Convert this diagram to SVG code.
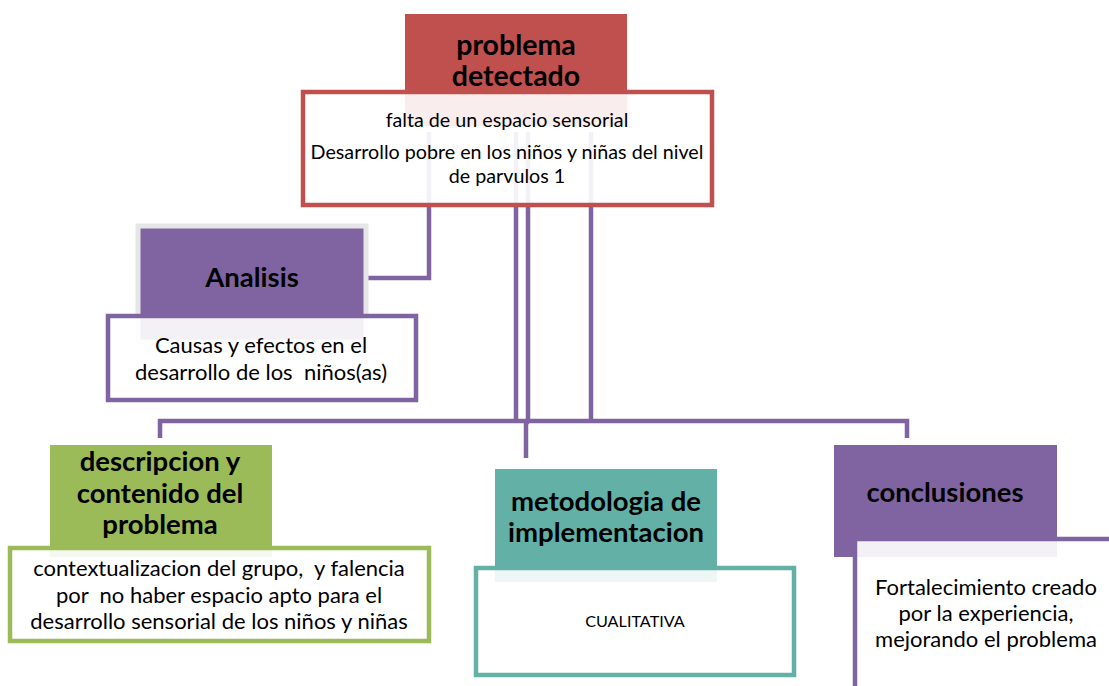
<svg xmlns="http://www.w3.org/2000/svg" width="1109" height="686" viewBox="0 0 1109 686">
<style>
.t{font-family:Lato,"Liberation Sans",sans-serif;font-weight:bold;font-size:27.5px;fill:#000;text-anchor:middle}
.b{font-family:Lato,"Liberation Sans",sans-serif;font-size:22px;fill:#000;text-anchor:middle;white-space:pre}
.s{font-size:19.7px}
.box{fill:#fff;fill-opacity:0.9;stroke-width:4.5}
.con{fill:none;stroke:#8064A2;stroke-width:4.5}
</style>
<rect width="1109" height="686" fill="#fff"/>
<g id="connectors">
<path class="con" d="M429,132 V278 H368"/>
<path class="con" d="M516,132 V421"/>
<path class="con" d="M528,132 V421 L526,424 V458"/>
<path class="con" d="M591,132 V421"/>
<path class="con" d="M160,438 V421 H907 V438"/>
</g>
<g id="problema">
<rect x="405" y="14" width="222" height="112" fill="#C0504D"/>
<rect class="box" x="303" y="92" width="409" height="113" stroke="#C0504D"/>
<text class="t" x="516" y="55" style="font-size:28.5px">problema</text>
<text class="t" x="516" y="86" style="font-size:28.5px">detectado</text>
<text class="b s" x="507" y="127">falta de un espacio sensorial</text>
<text class="b s" x="507" y="159">Desarrollo pobre en los niños y niñas del nivel</text>
<text class="b s" x="507" y="183">de parvulos 1</text>
</g>
<g id="analisis">
<rect x="138" y="226" width="228" height="116" fill="#8064A2" stroke="#E6E6E6" stroke-width="5"/>
<rect class="box" x="108" y="316" width="308" height="84" stroke="#8064A2"/>
<text class="t" x="252" y="287">Analisis</text>
<text class="b" x="261" y="353">Causas y efectos en el</text>
<text class="b" x="261" y="380">desarrollo de los  niños(as)</text>
</g>
<g id="descripcion">
<rect x="50" y="445" width="222" height="112" fill="#9BBB59"/>
<rect class="box" x="10" y="548" width="419" height="93" stroke="#9BBB59"/>
<text class="t" x="160" y="471">descripcion y</text>
<text class="t" x="160" y="503">contenido del</text>
<text class="t" x="160" y="534">problema</text>
<text class="b" x="219" y="576">contextualizacion del grupo,  y falencia</text>
<text class="b" x="219" y="603">por  no haber espacio apto para el</text>
<text class="b" x="219" y="629">desarrollo sensorial de los niños y niñas</text>
</g>
<g id="metodologia">
<rect x="495" y="469" width="222" height="113" fill="#62B0A6"/>
<rect class="box" x="476" y="568" width="318" height="107" stroke="#62B0A6"/>
<text class="t" x="606" y="511">metodologia de</text>
<text class="t" x="606" y="542">implementacion</text>
<text class="b" x="635" y="627" style="font-size:16.2px">CUALITATIVA</text>
</g>
<g id="conclusiones">
<rect x="834" y="445" width="223" height="112" fill="#8064A2"/>
<rect class="box" x="855" y="539" width="300" height="200" stroke="#8064A2"/>
<text class="t" x="945" y="502">conclusiones</text>
<text class="b" x="986" y="595">Fortalecimiento creado</text>
<text class="b" x="986" y="621">por la experiencia,</text>
<text class="b" x="986" y="647">mejorando el problema</text>
</g>
</svg>
